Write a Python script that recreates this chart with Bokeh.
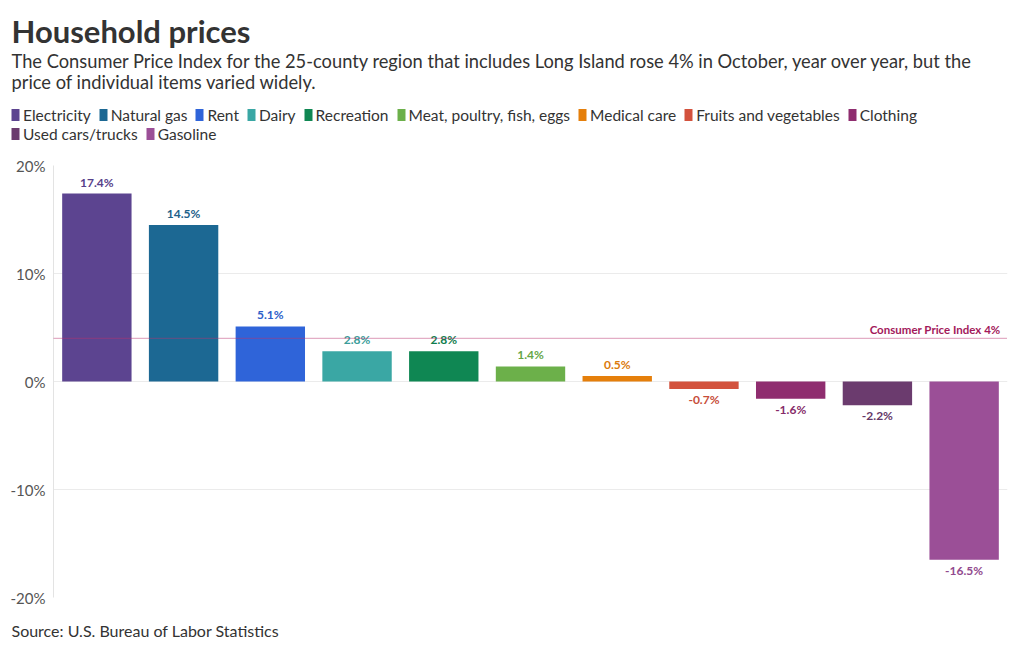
from bokeh.plotting import figure
from bokeh.layouts import column
from bokeh.models import (ColumnDataSource, Range1d, FactorRange, Legend, LegendItem,
                          Span, Label, FixedTicker)
from bokeh.core.properties import value
from bokeh.embed import file_html
from bokeh.resources import INLINE

# ---- data ----
categories = ["Electricity", "Natural gas", "Rent", "Dairy", "Recreation",
              "Meat, poultry, fish, eggs", "Medical care", "Fruits and vegetables",
              "Clothing", "Used cars/trucks", "Gasoline"]
changes = [17.4, 14.5, 5.1, 2.8, 2.8, 1.4, 0.5, -0.7, -1.6, -2.2, -16.5]
cpi_change = 4
y_ticks = [-20, -10, 0, 10, 20]

title = "Household prices"
subtitle_1 = "The Consumer Price Index for the 25-county region that includes Long Island rose 4% in October, year over year, but the"
subtitle_2 = "price of individual items varied widely."
source_note = "Source: U.S. Bureau of Labor Statistics"

# ---- styles ----
bar_colors = ["#5c4490", "#1c6893", "#2f64d9", "#3aa7a4", "#0f8753", "#6cb04a",
              "#e57f0b", "#d3523d", "#8f2d6f", "#6b3b6e", "#9b4f97"]
label_colors = ["#574089", "#1d618a", "#2d5ec9", "#3a9d9a", "#0f7d4d", "#66a646",
                "#db7a0b", "#c74d39", "#862b69", "#653867", "#914a8e"]
FONT = "Lato"
TXT = "#333333"
W = 1012
HEAD_H, MAIN_H, FOOT_H = 155, 452, 40

src = ColumnDataSource(dict(cat=categories, val=changes, color=bar_colors))

pos = [i for i, v in enumerate(changes) if v >= 0]
neg = [i for i, v in enumerate(changes) if v < 0]
def lab_src(idx):
    return ColumnDataSource(dict(
        cat=[categories[i] for i in idx],
        val=[changes[i] for i in idx],
        txt=[f"{changes[i]}%" for i in idx],
        color=[label_colors[i] for i in idx]))

def blank_fig(h):
    f = figure(width=W, height=h, x_range=Range1d(0, W), y_range=Range1d(h, 0),
               output_backend="svg", toolbar_location=None, title=None,
               min_border_left=0, min_border_right=0,
               min_border_top=0, min_border_bottom=0)
    f.axis.visible = False
    f.grid.visible = False
    f.outline_line_color = None
    if "frame_align" in f.properties():
        f.frame_align = False
    return f

def add_text(f, txt, x, y, size, style="normal", color=TXT):
    f.add_layout(Label(x=x, y=y, text=txt, text_font=FONT, text_font_size=size,
                       text_font_style=style, text_color=color, text_align="left",
                       text_baseline="alphabetic"))

# ---- header: title, subtitle, legend ----
head = blank_fig(HEAD_H)
add_text(head, title, 11, 30, "31px", "bold")
add_text(head, subtitle_1, 11, 60, "18.3px")
add_text(head, subtitle_2, 11, 81, "18.3px")
proxy = head.vbar(x="val", top="val", width=0, fill_color="color", line_color=None, source=src)
items = [LegendItem(label=c, renderers=[proxy], index=i) for i, c in enumerate(categories)]
def make_legend(its, bottom_y):
    return Legend(items=its, orientation="horizontal", location=(10, HEAD_H - bottom_y),
                  border_line_color=None, background_fill_alpha=0,
                  margin=0, padding=0, spacing=7, label_standoff=3,
                  glyph_width=10, glyph_height=15, label_height=15,
                  label_text_font=FONT, label_text_font_size="15.5px",
                  label_text_color=TXT, label_text_baseline="middle")
head.add_layout(make_legend(items[:9], 123.5))
head.add_layout(make_legend(items[9:], 142.5))

# ---- main chart ----
p = figure(width=W, height=MAIN_H,
           x_range=FactorRange(*categories, range_padding=0, factor_padding=0),
           y_range=Range1d(-20, 20), title=None, output_backend="svg", toolbar_location=None,
           min_border_left=53, min_border_right=5, min_border_bottom=10, min_border_top=10)
p.outline_line_color = None

p.vbar(x="cat", top="val", width=0.8, fill_color="color", line_color=None, source=src)

p.text(x="cat", y="val", text="txt", text_color="color", source=lab_src(pos),
       text_font=value(FONT), text_font_style="bold", text_font_size="12px",
       text_align="center", text_baseline="bottom", y_offset=-4)
p.text(x="cat", y="val", text="txt", text_color="color", source=lab_src(neg),
       text_font=value(FONT), text_font_style="bold", text_font_size="12px",
       text_align="center", text_baseline="top", y_offset=3)

p.add_layout(Span(location=cpi_change, dimension="width", line_color="#b8336f",
                  line_dash="1 1", line_width=1))
p.add_layout(Label(x=len(categories), y=cpi_change, text=f"Consumer Price Index {cpi_change}%",
                   text_font=FONT, text_font_style="bold", text_font_size="11.5px",
                   text_color="#a3195b", text_align="right", text_baseline="bottom",
                   x_offset=-7, y_offset=2))

p.xaxis.visible = False
p.xgrid.grid_line_color = None
p.ygrid.grid_line_color = "#ebebeb"
p.yaxis.ticker = FixedTicker(ticks=y_ticks)
p.yaxis.major_label_overrides = {t: f"{t}%" for t in y_ticks}
p.yaxis.axis_line_color = "#e3e3e3"
p.yaxis.major_tick_line_color = None
p.yaxis.major_tick_out = 0
p.yaxis.major_tick_in = 0
p.yaxis.minor_tick_line_color = None
p.yaxis.major_label_text_font = FONT
p.yaxis.major_label_text_font_size = "15px"
p.yaxis.major_label_text_color = "#555555"
p.yaxis.major_label_standoff = 8

# ---- footer ----
foot = blank_fig(FOOT_H)
add_text(foot, source_note, 11, 23, "16px")

layout = column(head, p, foot, spacing=0)
open("out.html", "w").write(file_html(layout, INLINE))
